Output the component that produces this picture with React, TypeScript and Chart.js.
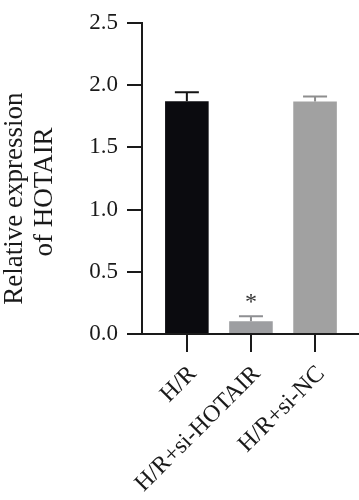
import { useEffect, useRef } from 'react';
import { Chart, registerables } from 'chart.js';

Chart.register(...registerables);

const categories = ['H/R', 'H/R+si-HOTAIR', 'H/R+si-NC'];
const values = [1.87, 0.102, 1.868];
const errors = [0.073, 0.041, 0.039];
const significance = ['', '*', ''];
const barColors = ['#0b0b0f', '#9d9ea1', '#a1a1a1'];
const errorColors = ['#141414', '#8e8f92', '#8e8e8e'];
const yTicks = [0, 0.5, 1.0, 1.5, 2.0, 2.5];
const yTitle = ['Relative expression      ', 'of HOTAIR    '];

const FONT = 'Liberation Serif';
const INK = '#1a1a1a';

const errorBarPlugin = {
  id: 'errorBars',
  afterDatasetsDraw(chart: any) {
    const { ctx } = chart;
    const xs = chart.scales.x;
    const ys = chart.scales.y;
    ctx.save();
    values.forEach((v, i) => {
      const px = xs.getPixelForValue(i);
      const base = ys.getPixelForValue(v);
      const top = ys.getPixelForValue(v + errors[i]);
      ctx.strokeStyle = errorColors[i];
      ctx.lineWidth = 2;
      ctx.beginPath();
      ctx.moveTo(px, base);
      ctx.lineTo(px, top);
      ctx.moveTo(px - 12, top);
      ctx.lineTo(px + 12, top);
      ctx.stroke();
      if (significance[i]) {
        ctx.fillStyle = '#333333';
        ctx.font = `24px "${FONT}"`;
        ctx.textAlign = 'center';
        ctx.textBaseline = 'alphabetic';
        ctx.fillText(significance[i], px, top - 7);
      }
    });
    ctx.restore();
  },
};

export default function App() {
  const ref = useRef<HTMLCanvasElement | null>(null);

  useEffect(() => {
    if (!ref.current) return;
    const chart = new Chart(ref.current, {
      type: 'bar',
      data: {
        datasets: [
          {
            data: values.map((v, i) => ({ x: i, y: v })),
            backgroundColor: barColors,
            borderWidth: 0,
            categoryPercentage: 1,
            barPercentage: 0.68,
          },
        ],
      },
      options: {
        responsive: false,
        animation: false,
        layout: { padding: { top: 14, right: 1, left: 0, bottom: 0 } },
        plugins: {
          legend: { display: false },
          tooltip: { enabled: false },
        },
        scales: {
          x: {
            type: 'linear',
            min: -0.7,
            max: 2.67,
            offset: false,
            afterBuildTicks: (s: any) => {
              s.ticks = categories.map((_, i) => ({ value: i }));
            },
            afterFit: (s: any) => {
              s.height = 166;
            },
            grid: {
              display: true,
              drawOnChartArea: false,
              drawTicks: true,
              tickLength: 18,
              tickWidth: 2,
              tickColor: INK,
              offset: false,
              color: INK,
              lineWidth: 2,
            },
            border: { display: true, color: INK, width: 2 },
            ticks: {
              autoSkip: false,
              maxRotation: 45,
              minRotation: 45,
              labelOffset: 6,
              padding: 8,
              color: INK,
              font: { family: FONT, size: 24 },
              callback: (v: any) => categories[v] ?? '',
            },
          },
          y: {
            min: 0,
            max: 2.5,
            afterBuildTicks: (s: any) => {
              s.ticks = yTicks.map((v) => ({ value: v }));
            },
            afterFit: (s: any) => {
              s.width = 142;
            },
            grid: {
              display: true,
              drawOnChartArea: false,
              drawTicks: true,
              tickLength: 15,
              tickWidth: 2,
              tickColor: INK,
              color: INK,
              lineWidth: 2,
            },
            border: { display: true, color: INK, width: 2 },
            ticks: {
              padding: 9,
              color: INK,
              font: { family: FONT, size: 23 },
              callback: (v: any) => Number(v).toFixed(1),
            },
            title: {
              display: true,
              text: yTitle,
              color: INK,
              font: { family: FONT, size: 27, lineHeight: 1.1 },
              padding: { top: 0, bottom: 0 },
            },
          },
        },
      },
      plugins: [errorBarPlugin],
    } as any);
    return () => chart.destroy();
  }, []);

  return (
    <div style={{ position: 'absolute', left: 0, top: 0, width: 359, height: 500, background: '#fff' }}>
      <canvas ref={ref} width={359} height={500} style={{ display: 'block' }} />
    </div>
  );
}
